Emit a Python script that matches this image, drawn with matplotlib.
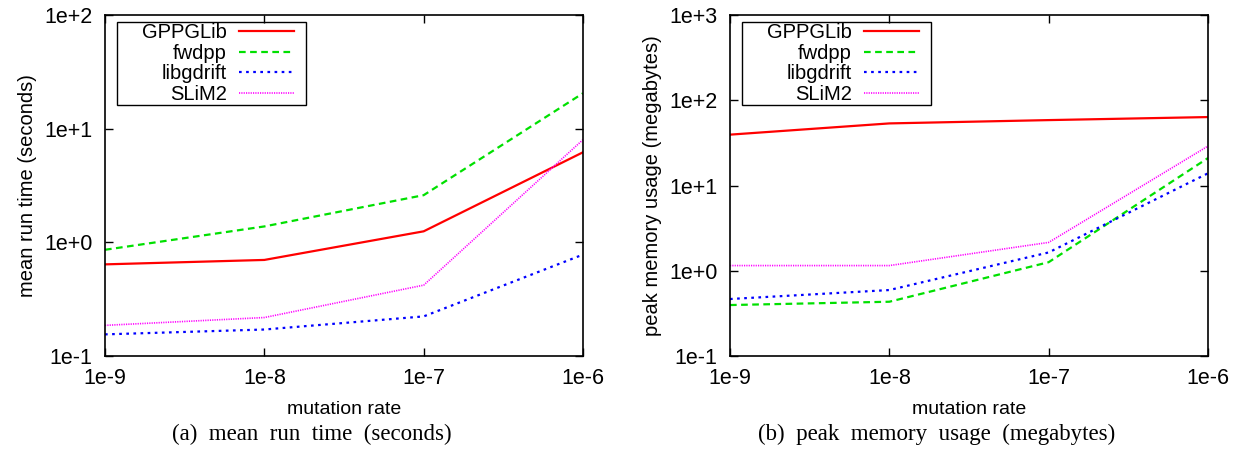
import matplotlib
matplotlib.use("Agg")
import matplotlib.pyplot as plt
from matplotlib.patches import Rectangle
import numpy as np

rates = [1e-9, 1e-8, 1e-7, 1e-6]
rate_labels = ["1e-9", "1e-8", "1e-7", "1e-6"]
series_names = ["GPPGLib", "fwdpp", "libgdrift", "SLiM2"]

# mean run time (seconds)
time_gppglib = [0.64, 0.70, 1.25, 6.2]
time_fwdpp = [0.86, 1.38, 2.6, 20.5]
time_libgdrift = [0.155, 0.171, 0.223, 0.78]
time_slim2 = [0.186, 0.218, 0.42, 8.0]

# peak memory usage (megabytes)
mem_gppglib = [39.5, 53.5, 58.5, 63.5]
mem_fwdpp = [0.396, 0.433, 1.26, 21.0]
mem_libgdrift = [0.466, 0.594, 1.64, 13.9]
mem_slim2 = [1.15, 1.15, 2.15, 29.0]

time_ticks = [0.1, 1, 10, 100]
time_tick_labels = ["1e-1", "1e+0", "1e+1", "1e+2"]
mem_ticks = [0.1, 1, 10, 100, 1000]
mem_tick_labels = ["1e-1", "1e+0", "1e+1", "1e+2", "1e+3"]

colors = ["#ff0000", "#00e000", "#0000ff", "#ff00ff"]
styles = ["-", (0, (3, 2)), (0, (1.2, 2)), (0, (0.7, 0.7))]
widths = [1.6, 1.6, 1.6, 1.2]

plt.rcParams["font.family"] = ["Liberation Sans", "DejaVu Sans"]


def draw(ax, data, yticks, ylabels, ylabel, caption):
    for vals, name, c, ls, lw in zip(data, series_names, colors, styles, widths):
        ax.plot(rates, vals, color=c, linestyle=ls, linewidth=lw, label=name)
    ax.set_xscale("log")
    ax.set_yscale("log")
    ax.set_xlim(rates[0], rates[-1])
    ax.set_ylim(yticks[0], yticks[-1])
    ax.set_xticks(rates)
    ax.set_xticklabels(rate_labels)
    ax.set_yticks(yticks)
    ax.set_yticklabels(ylabels)
    ax.minorticks_off()
    ax.tick_params(direction="in", length=6, width=1, top=True, right=True,
                   labelsize=15.5, pad=9)
    for sp in ax.spines.values():
        sp.set_linewidth(1.2)
    ax.set_xlabel("mutation rate", fontsize=14, labelpad=8)
    ax.set_ylabel(ylabel, fontsize=14.5, labelpad=5)
    # legend content; frame is drawn separately with gnuplot-like padding
    leg = ax.legend(loc="upper left", bbox_to_anchor=(37 / 478, 1 - 8 / 341),
                    markerfirst=False, fontsize=14.5, frameon=False,
                    handlelength=2.73, handletextpad=0.6, labelspacing=0.085,
                    borderaxespad=0.0, borderpad=0.0)
    # caption sits under the whole panel (axes plus y label), shifted left
    ax.text(0.5 - 32 / 478, -0.2, caption, transform=ax.transAxes,
            ha="center", va="top", fontsize=16.5, family="Liberation Serif")
    return leg


fig = plt.figure(figsize=(12.38, 4.49), dpi=100)
ax1 = fig.add_axes([105 / 1238, 93 / 449, 478 / 1238, 341 / 449])
ax2 = fig.add_axes([730 / 1238, 93 / 449, 478 / 1238, 341 / 449])

leg1 = draw(ax1, [time_gppglib, time_fwdpp, time_libgdrift, time_slim2],
            time_ticks, time_tick_labels, "mean run time (seconds)",
            "(a)  mean  run  time  (seconds)")
leg2 = draw(ax2, [mem_gppglib, mem_fwdpp, mem_libgdrift, mem_slim2],
            mem_ticks, mem_tick_labels, "peak memory usage (megabytes)",
            "(b)  peak  memory  usage  (megabytes)")

fig.canvas.draw()
inv = fig.transFigure.inverted()
for leg in (leg1, leg2):
    bb = leg.get_window_extent()
    x0, y0 = inv.transform((bb.x0 - 25, bb.y0 - 1))
    x1, y1 = inv.transform((bb.x1 + 12, bb.y1 + 1))
    fig.patches.append(Rectangle((x0, y0), x1 - x0, y1 - y0, fill=False,
                                 edgecolor="black", linewidth=1.0,
                                 transform=fig.transFigure, figure=fig))

fig.savefig("out.png", dpi=100)
